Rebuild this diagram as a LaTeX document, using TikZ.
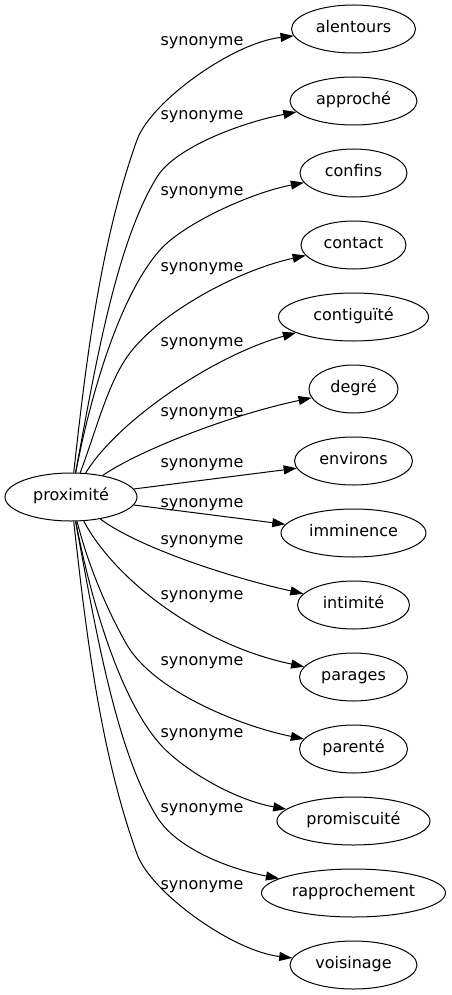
\documentclass[tikz,border=0pt]{standalone}
\usepackage{fontspec}
\setmainfont{DejaVu Sans}
\usetikzlibrary{shapes.geometric,arrows.meta}
\tikzset{
  word/.style={ellipse, draw, line width=1pt, minimum height=48pt, inner xsep=0pt, inner ysep=2pt,
    text height=11.6pt, text depth=3.8pt, font=\fontsize{16}{19}\selectfont},
  rel/.style={inner sep=0pt, font=\fontsize{16}{19}\selectfont},
  edge/.style={draw, line width=1pt, -{Triangle[length=13pt,width=9pt]}}
}
\begin{document}
\begin{tikzpicture}[x=1pt,y=-1pt]
\useasboundingbox (0,0) rectangle (451,995);
\node[word, minimum width=132pt] (p) at (71,497) {proximité};
\node[word, minimum width=124pt] (n1) at (353.5,29) {alentours};
\node[word, minimum width=127pt] (n2) at (353.5,101) {approché};
\node[word, minimum width=107pt] (n3) at (353.5,173) {confins};
\node[word, minimum width=105pt] (n4) at (353.5,245) {contact};
\node[word, minimum width=150pt] (n5) at (353.5,317) {contiguïté};
\node[word, minimum width=89pt] (n6) at (353.5,389) {degré};
\node[word, minimum width=118pt] (n7) at (353.5,461) {environs};
\node[word, minimum width=145pt] (n8) at (353.5,533) {imminence};
\node[word, minimum width=112pt] (n9) at (353.5,605) {intimité};
\node[word, minimum width=108pt] (n10) at (353.5,677) {parages};
\node[word, minimum width=108pt] (n11) at (353.5,749) {parenté};
\node[word, minimum width=153pt] (n12) at (353.5,821) {promiscuité};
\node[word, minimum width=184pt] (n13) at (353.5,893) {rapprochement};
\node[word, minimum width=127pt] (n14) at (353.5,965) {voisinage};
\node[rel] (l1) at (202,42.7) {synonyme};
\node[rel] (l2) at (202,116.7) {synonyme};
\node[rel] (l3) at (202,192.7) {synonyme};
\node[rel] (l4) at (202,268.3) {synonyme};
\node[rel] (l5) at (202,343.3) {synonyme};
\node[rel] (l6) at (202,413.3) {synonyme};
\node[rel] (l7) at (202,465) {synonyme};
\node[rel] (l8) at (202,505) {synonyme};
\node[rel] (l9) at (202,541.7) {synonyme};
\node[rel] (l10) at (202,596.5) {synonyme};
\node[rel] (l11) at (202,663) {synonyme};
\node[rel] (l12) at (202,734.5) {synonyme};
\node[rel] (l13) at (202,810) {synonyme};
\node[rel] (l14) at (202,886.7) {synonyme};
\draw[edge] (p) .. controls (86,362) and (100,243) .. (137,140) .. controls (150.6,102) and (232,43) .. (n1);
\draw[edge] (p) .. controls (94,374) and (115,245) .. (157,177) .. controls (175.5,147) and (242,122.5) .. (n2);
\draw[edge] (p) .. controls (91,393) and (120,295) .. (160,250) .. controls (183,224) and (250,193) .. (n3);
\draw[edge] (p) .. controls (96,431) and (107,386) .. (127,357) .. controls (155.5,315.5) and (235,271) .. (n4);
\draw[edge] (p) .. controls (118,420) and (215,355) .. (n5);
\draw[edge] (p) .. controls (140,450) and (230,415) .. (n6);
\draw[edge] (p) -- (n7);
\draw[edge] (p) -- (n8);
\draw[edge] (p) .. controls (135,545) and (220,575) .. (n9);
\draw[edge] (p) .. controls (115,580) and (200,645) .. (n10);
\draw[edge] (p) .. controls (88,565) and (107,610) .. (127,645) .. controls (154.5,691.5) and (240,726) .. (n11);
\draw[edge] (p) .. controls (91,601) and (120,699) .. (160,744) .. controls (183,770) and (235,800) .. (n12);
\draw[edge] (p) .. controls (94,620) and (115,749) .. (157,817) .. controls (175.5,847) and (225,868) .. (n13);
\draw[edge] (p) .. controls (86,632) and (100,751) .. (137,854) .. controls (150.6,892) and (232,951) .. (n14);
\end{tikzpicture}
\end{document}
